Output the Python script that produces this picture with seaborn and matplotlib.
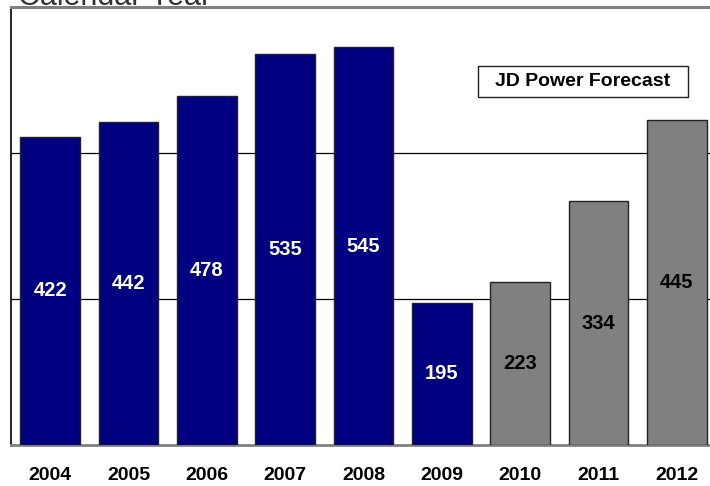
import matplotlib
matplotlib.use("Agg")
import matplotlib.pyplot as plt
from matplotlib.patches import Rectangle
import seaborn as sns
import pandas as pd

years = ["2004", "2005", "2006", "2007", "2008", "2009", "2010", "2011", "2012"]
values = [422, 442, 478, 535, 545, 195, 223, 334, 445]
kind = ["Actual"] * 6 + ["Forecast"] * 3
palette = {"Actual": "#000080", "Forecast": "#808080"}
label_colors = {"Actual": "white", "Forecast": "black"}

df = pd.DataFrame({"year": years, "value": values, "kind": kind})

sns.set_theme(style="white")
plt.rcParams["font.family"] = ["Liberation Sans", "DejaVu Sans"]

W, H = 710, 486
fig = plt.figure(figsize=(W / 100, H / 100), dpi=100)
left, right, top, bottom = 11, 716, 7, 445
ax = fig.add_axes([left / W, (H - bottom) / H, (right - left) / W, (bottom - top) / H])

sns.barplot(data=df, x="year", y="value", hue="kind", palette=palette,
            dodge=False, width=0.765, ax=ax, legend=False, saturation=1,
            edgecolor="#222222", linewidth=1.0, zorder=3)

ax.set_ylim(0, 600)
ax.set_xlim(-0.5, 8.5)
ax.set_yticks([200, 400])
ax.yaxis.grid(True, color="black", linewidth=0.9, zorder=0)
ax.set_axisbelow(True)
ax.set_yticklabels([])
ax.tick_params(axis="y", length=0)
ax.set_xlabel("")
ax.set_ylabel("")
ax.tick_params(axis="x", length=0, pad=16)
for t in ax.get_xticklabels():
    t.set_fontsize(14)
    t.set_fontweight("bold")
    t.set_color("black")

ax.spines["left"].set_color("black")
ax.spines["left"].set_linewidth(1.2)
ax.spines["top"].set_color("#808080")
ax.spines["top"].set_linewidth(2.2)
ax.spines["bottom"].set_color("#808080")
ax.spines["bottom"].set_linewidth(2.0)
ax.spines["right"].set_visible(False)

for i, (v, k) in enumerate(zip(values, kind)):
    ax.text(i, v / 2, str(v), ha="center", va="center", fontsize=14.5,
            fontweight="bold", color=label_colors[k], zorder=5)

# forecast label box (pixel geometry -> axes fraction)
bx0, bx1, by0, by1 = 478, 688, 66, 97
aw, ah = right - left, bottom - top
ax.add_patch(Rectangle(((bx0 - left) / aw, (bottom - by1) / ah),
                       (bx1 - bx0) / aw, (by1 - by0) / ah,
                       transform=ax.transAxes, facecolor="white",
                       edgecolor="#222222", linewidth=1.0, zorder=6))
ax.text(((bx0 + bx1) / 2 - left) / aw, (bottom - (by0 + by1) / 2) / ah,
        "JD Power Forecast", transform=ax.transAxes,
        ha="center", va="center", fontsize=14, fontweight="bold",
        color="black", zorder=7)

fig.text(18 / W, 1 - 5 / H, "Calendar Year", ha="left", va="baseline",
         fontsize=22, color="#333333")

fig.savefig("out.png", dpi=100)
